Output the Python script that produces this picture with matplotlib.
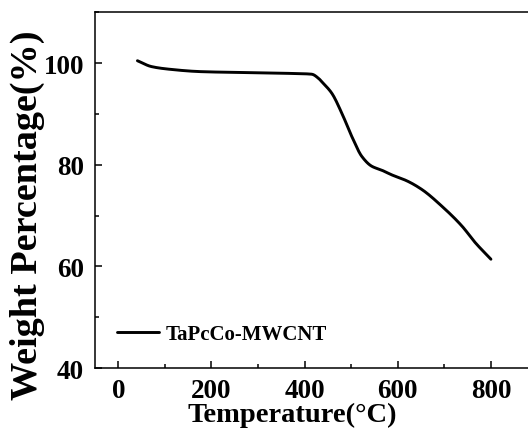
import matplotlib
matplotlib.use("Agg")
import matplotlib.pyplot as plt
from matplotlib.ticker import MultipleLocator
import numpy as np

temperature = [41, 71, 107, 178, 286, 372, 394, 415, 432, 437, 458, 480, 501, 523, 544, 566, 587, 620, 652, 695, 738, 766, 800]
weight = [100.45, 99.3, 98.8, 98.3, 98.1, 97.95, 97.9, 97.8, 96.8, 96.3, 94.1, 90.1, 85.6, 81.6, 79.7, 78.9, 78.0, 76.8, 75.1, 71.8, 67.9, 64.7, 61.4]
series_label = "TaPcCo-MWCNT"
x_ticks = [0, 200, 400, 600, 800]
y_ticks = [40, 60, 80, 100]

plt.rcParams['font.family'] = ['Liberation Serif', 'DejaVu Serif']
plt.rcParams['font.weight'] = 'bold'

fig = plt.figure(figsize=(5.28, 4.35), dpi=100)
ax = fig.add_axes([0.180, 0.1517, 0.838, 0.818])


def pchip(x, y, xn):
    h = np.diff(x); d = np.diff(y) / h
    m = np.zeros_like(y)
    for k in range(1, len(x) - 1):
        if d[k-1] * d[k] > 0:
            w1 = 2*h[k] + h[k-1]; w2 = h[k] + 2*h[k-1]
            m[k] = (w1 + w2) / (w1/d[k-1] + w2/d[k])
    m[0] = d[0]; m[-1] = d[-1]
    out = np.empty_like(xn)
    idx = np.clip(np.searchsorted(x, xn) - 1, 0, len(x) - 2)
    for j, (xi, k) in enumerate(zip(xn, idx)):
        hh = h[k]; s = (xi - x[k]) / hh
        h00 = 2*s**3 - 3*s**2 + 1; h10 = s**3 - 2*s**2 + s
        h01 = -2*s**3 + 3*s**2; h11 = s**3 - s**2
        out[j] = h00*y[k] + h10*hh*m[k] + h01*y[k+1] + h11*hh*m[k+1]
    return out


t = np.array(temperature, dtype=float)
w = np.array(weight, dtype=float)
tn = np.linspace(t[0], t[-1], 600)
wn = pchip(t, w, tn)

ax.plot(tn, wn, color='black', lw=2.1, label=series_label, solid_capstyle='round')

ax.set_xlim(-50, 900)
ax.set_ylim(40, 110)
ax.set_xticks(x_ticks)
ax.set_yticks(y_ticks)
ax.xaxis.set_minor_locator(MultipleLocator(100))
ax.yaxis.set_minor_locator(MultipleLocator(10))
ax.tick_params(which='both', direction='in', width=1.1, top=False, right=False)
ax.tick_params(which='major', length=5, labelsize=19.5, pad=8)
ax.tick_params(axis='x', which='major', pad=7)
ax.tick_params(which='minor', length=3)
for lab in ax.get_xticklabels() + ax.get_yticklabels():
    lab.set_fontweight('bold')
for sp in ax.spines.values():
    sp.set_linewidth(1.1)

ax.set_xlabel('Temperature(°C)', fontsize=20.5, fontweight='bold')
ax.set_ylabel('Weight Percentage(%)', fontsize=27.5, fontweight='bold')
ax.xaxis.set_label_coords(0.445, -0.096)
ax.yaxis.set_label_coords(-0.113, 0.433)

leg = ax.legend(loc='lower left', bbox_to_anchor=(0.008, 0.015), frameon=False,
                prop={'size': 15, 'weight': 'bold'}, handlelength=2.0, handletextpad=0.3)

fig.savefig('out.png', dpi=100)
